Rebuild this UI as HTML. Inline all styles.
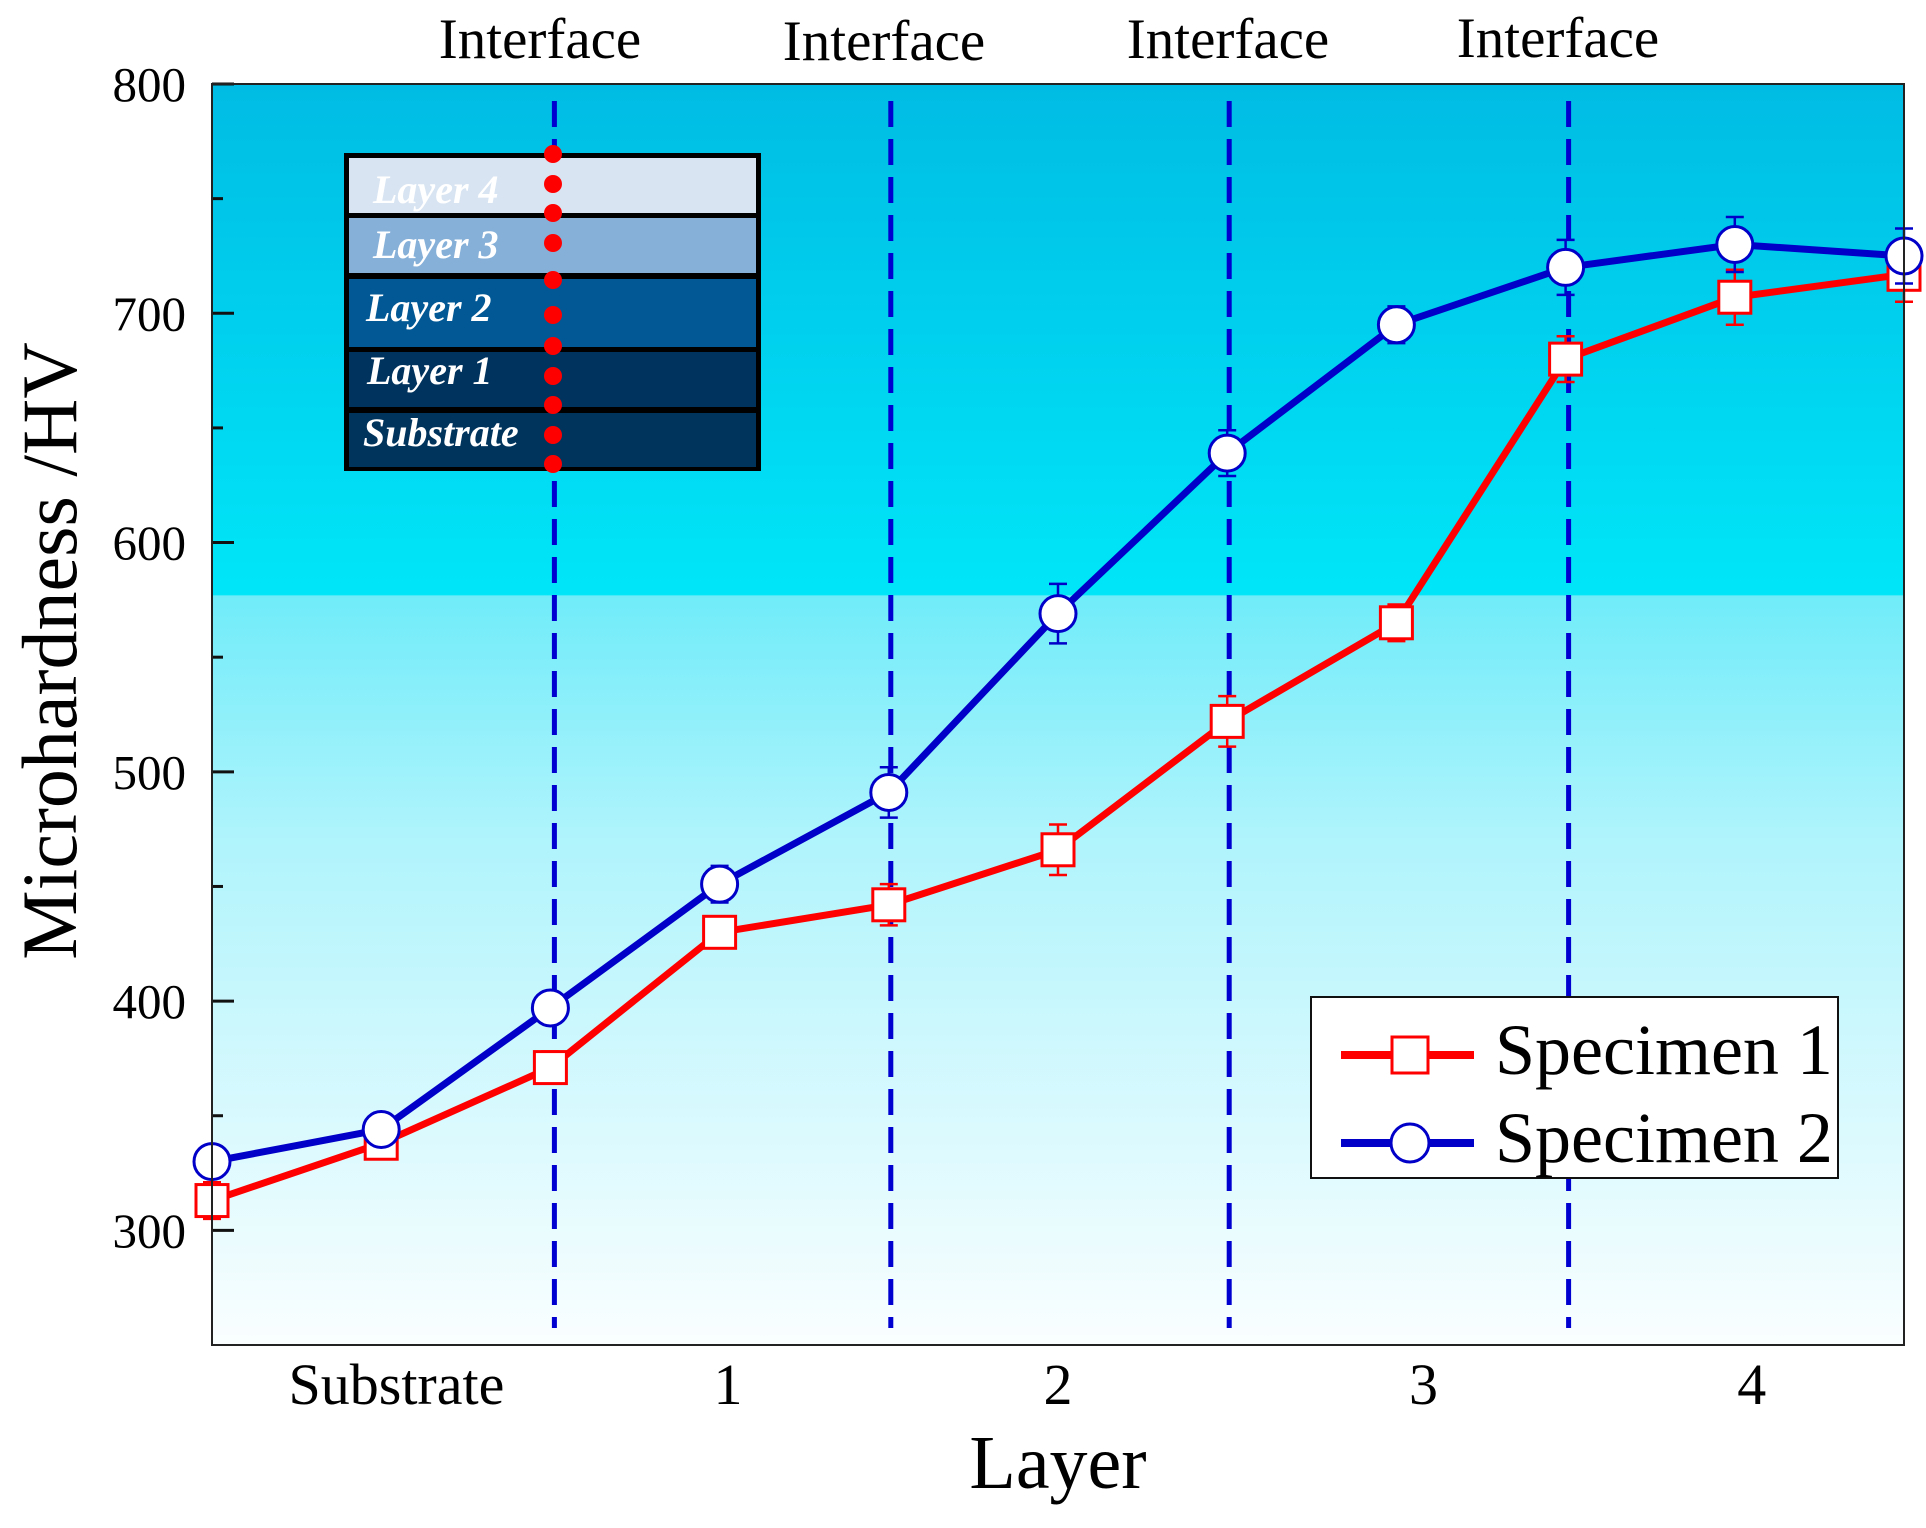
<!DOCTYPE html>
<html><head><meta charset="utf-8"><style>
html,body{margin:0;padding:0;background:#fff;}
svg{display:block;font-family:"Liberation Serif",serif;}
</style></head><body>
<svg id="chart" width="1926" height="1528" viewBox="0 0 1926 1528" xmlns="http://www.w3.org/2000/svg">
<defs>
<linearGradient id="bg" x1="0" y1="0" x2="0" y2="1">
<stop offset="0" stop-color="#00bce4"/>
<stop offset="0.405" stop-color="#00e6f8"/>
<stop offset="0.406" stop-color="#70ecf9"/>
<stop offset="0.6" stop-color="#b0f4fc"/>
<stop offset="1" stop-color="#fafeff"/>
</linearGradient>
</defs>
<rect x="212" y="84" width="1692" height="1261" fill="url(#bg)"/>
<g id="grid"></g>
<g id="inset">
<rect x="344" y="153" width="417" height="318" fill="#000"/>
<rect x="349" y="158" width="407" height="55" fill="#d8e4f2"/>
<rect x="349" y="218" width="407" height="55" fill="#86b0d8"/>
<rect x="349" y="279" width="407" height="68" fill="#015894"/>
<rect x="349" y="352" width="407" height="55" fill="#00335d"/>
<rect x="349" y="413" width="407" height="54" fill="#00345d"/>
<g font-style="italic" font-weight="bold" font-size="40" fill="#fff">
<text x="373" y="203">Layer 4</text>
<text x="373" y="258">Layer 3</text>
<text x="366" y="321">Layer 2</text>
<text x="367" y="384">Layer 1</text>
<text x="363" y="446">Substrate</text>
</g>
</g>
<g id="marks"></g>
<rect x="212" y="84" width="1692" height="1261" fill="none" stroke="#222" stroke-width="2"/>
<g id="legend">
<rect x="1311" y="997" width="527" height="181" fill="#fff" stroke="#111" stroke-width="2"/>
<g>
<line x1="1341" y1="1055" x2="1474" y2="1055" stroke="#ff0000" stroke-width="8"/>
<rect x="1392" y="1037" width="36" height="36" fill="#fff" stroke="#ff0000" stroke-width="3"/>
<text x="1495" y="1074" font-size="72" fill="#000">Specimen 1</text>
</g>
<g>
<line x1="1341" y1="1143" x2="1474" y2="1143" stroke="#0000c8" stroke-width="8"/>
<circle cx="1410" cy="1143" r="19" fill="#fff" stroke="#0000c8" stroke-width="3"/>
<text x="1495" y="1162" font-size="72" fill="#000">Specimen 2</text>
</g>
</g>
<text x="1058" y="1488" font-size="76" text-anchor="middle">Layer</text>
<text transform="translate(76,651) rotate(-90)" font-size="78" text-anchor="middle">Microhardness /HV</text>
</svg>
<script>
const categories = [0,1,2,3,4,5,6,7,8,9,10];
const specimen1 = [313,338,371,430,442,466,522,565,680,707,717];
const specimen1Err = [8,5,7,6,9,11,11,8,10,12,12];
const specimen2 = [330,344,397,451,491,569,639,695,720,730,725];
const specimen2Err = [5,5,6,8,11,13,10,8,12,12,12];
const yTicks = [300,400,500,600,700,800];
const xTickLabels = ["Substrate","1","2","3","4"];
const xTickPos = [1.09,3.05,5.0,7.16,9.1];
const interfacePos = [2,4,6,8];
const interfaceLabels = ["Interface","Interface","Interface","Interface"];

const svg = document.getElementById('chart');
const NS = 'http://www.w3.org/2000/svg';
const X0=212, X1=1904, Y0=84, Y1=1345, YMIN=250, YMAX=800;
const xs = i => X0 + (X1-X0)*i/10;
const ys = v => Y1 - (Y1-Y0)*(v-YMIN)/(YMAX-YMIN);
function mk(tag, attrs, parent){const e=document.createElementNS(NS,tag);for(const k in attrs)e.setAttribute(k,attrs[k]);parent.appendChild(e);return e;}

const grid = document.getElementById('grid');
for (let v=300; v<=800; v+=50){
  const major = yTicks.includes(v);
  const t = mk('line',{x1:X0,x2:X0+(major?22:11),y1:ys(v),y2:ys(v),stroke:'#111','stroke-width':3},grid);
  
  
}
yTicks.forEach(v=>{
  const t = mk('text',{x:186,y:ys(v)+17,'font-size':49,'text-anchor':'end'},svg);
  t.textContent=v;
  
  
});
xTickLabels.forEach((l,i)=>{
  const t = mk('text',{x:xs(xTickPos[i]),y:1404,'font-size':58,'text-anchor':'middle'},svg);
  t.textContent=l;
  
  
});
interfacePos.forEach((p,i)=>{
  const x = xs(p)+[4,2,2,3][i];
  const l = mk('line',{x1:x,x2:x,y1:101,y2:1328,stroke:'#0000d0','stroke-width':5,'stroke-dasharray':'26 12'},grid);
  
  
  const t = mk('text',{x:[540,884,1228,1558][i],y:[58,60,58,57][i],'font-size':57,'text-anchor':'middle'},svg);
  t.textContent=interfaceLabels[i];
  
  
});
const inset = document.getElementById('inset');
[154,184,213,243,280,315,346,376,405,435,464].forEach((y,i)=>{
  const c = mk('circle',{cx:553,cy:y,r:9,fill:'#ff0000'},inset);
  
  
});

const marks = document.getElementById('marks');
function series(vals, errs, color, shape, name){
  const g = mk('g',{},marks);
  
  
  const pts = vals.map((v,i)=>xs(categories[i])+','+ys(v)).join(' ');
  const pl = mk('polyline',{points:pts,fill:'none',stroke:color,'stroke-width':7,'stroke-linejoin':'round'},g);
  
  
  vals.forEach((v,i)=>{
    const x=xs(categories[i]), y=ys(v), e=errs[i];
    const eb = mk('path',{d:`M${x},${ys(v+e)}V${ys(v-e)}M${x-9},${ys(v+e)}H${x+9}M${x-9},${ys(v-e)}H${x+9}`,stroke:color,'stroke-width':2.5,fill:'none'},g);
    
    
    let m;
    if(shape==='square') m = mk('rect',{x:x-16,y:y-16,width:32,height:32,fill:'#fff',stroke:color,'stroke-width':3},g);
    else m = mk('circle',{cx:x,cy:y,r:18,fill:'#fff',stroke:color,'stroke-width':3},g);
    
    
  });
}
series(specimen1, specimen1Err, '#ff0000', 'square', 'specimen-1');
series(specimen2, specimen2Err, '#0000c8', 'circle', 'specimen-2');
</script>
</body></html>
